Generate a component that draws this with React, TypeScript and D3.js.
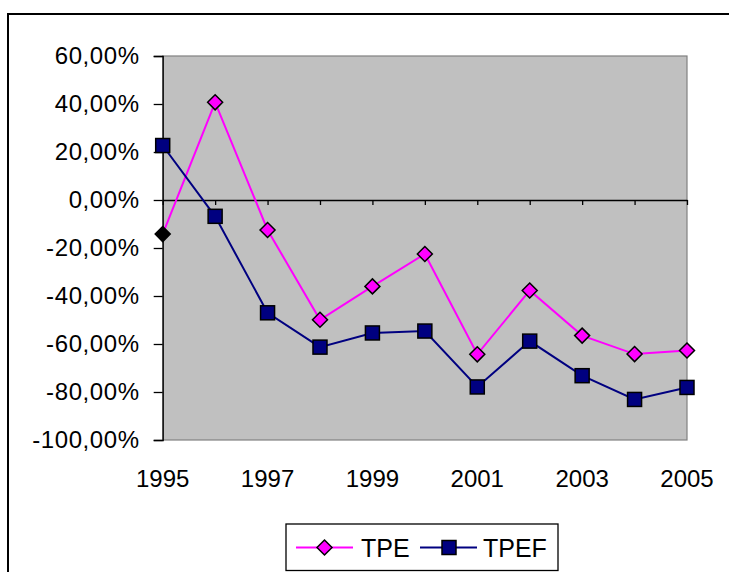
import React, { useRef, useEffect } from 'react';
import * as d3 from 'd3';

const years: number[] = [1995, 1996, 1997, 1998, 1999, 2000, 2001, 2002, 2003, 2004, 2005];
const tpe: number[] = [-14.2, 40.7, -12.5, -49.9, -36.0, -22.5, -64.3, -37.7, -56.5, -64.2, -62.7];
const tpef: number[] = [22.7, -6.8, -47.0, -61.3, -55.4, -54.6, -77.9, -58.8, -73.2, -83.1, -78.1];
const yTicks: number[] = [60, 40, 20, 0, -20, -40, -60, -80, -100];
const xLabels: number[] = [1995, 1997, 1999, 2001, 2003, 2005];

const W = 729;
const H = 572;
const FONT = '"Liberation Sans", Arial, sans-serif';

const App: React.FC = () => {
    const svgRef = useRef<SVGSVGElement | null>(null);

    useEffect(() => {
        const svg = d3.select(svgRef.current);
        svg.selectAll('*').remove();

        const left = 162.7, right = 687, top = 56, bottom = 440;

        const x = d3.scaleLinear().domain([1995, 2005]).range([left, right]);
        const y = d3.scaleLinear().domain([-100, 60]).range([bottom, top]);

        // outer chart border
        svg.append('rect')
            .attr('x', 8).attr('y', 14)
            .attr('width', 800).attr('height', 700)
            .attr('fill', 'white')
            .attr('stroke', 'black')
            .attr('stroke-width', 2);

        // plot area
        svg.append('rect')
            .attr('x', left).attr('y', top)
            .attr('width', right - left).attr('height', bottom - top)
            .attr('fill', '#c0c0c0')
            .attr('stroke', '#808080')
            .attr('stroke-width', 1.2);

        // y axis, labels like "-20,00%" with a plain hyphen
        const yAxis = d3.axisLeft(y)
            .tickValues(yTicks)
            .tickSize(9)
            .tickPadding(14)
            .tickFormat(d => (d as number).toFixed(2).replace('.', ',') + '%');
        const gy = svg.append('g')
            .attr('transform', `translate(${left},0)`)
            .call(yAxis);
        gy.select('.domain').attr('stroke', 'black').attr('stroke-width', 1.3);
        gy.selectAll('.tick line').attr('stroke', 'black').attr('stroke-width', 1.3);
        gy.selectAll('.tick text')
            .attr('font-family', FONT)
            .attr('font-size', 24)
            .attr('letter-spacing', 0.6)
            .attr('fill', 'black');

        // x axis at zero
        const xAxis = d3.axisBottom(x)
            .tickValues(years)
            .tickSize(5)
            .tickSizeOuter(0)
            .tickFormat(() => '');
        const gx = svg.append('g')
            .attr('transform', `translate(0,${y(0)})`)
            .call(xAxis);
        gx.select('.domain').attr('stroke', 'black').attr('stroke-width', 1.3);
        gx.selectAll('.tick line').attr('stroke', 'black').attr('stroke-width', 1.3);

        // x labels at the bottom
        svg.append('g')
            .selectAll('text')
            .data(xLabels)
            .enter().append('text')
            .attr('x', d => x(d))
            .attr('y', 487)
            .attr('text-anchor', 'middle')
            .attr('font-family', FONT)
            .attr('font-size', 24)
            .text(d => String(d));

        const line = d3.line<number>()
            .x((_, i) => x(years[i]))
            .y(d => y(d));

        svg.append('path')
            .datum(tpe)
            .attr('d', line)
            .attr('fill', 'none')
            .attr('stroke', '#ff00ff')
            .attr('stroke-width', 2);

        svg.append('path')
            .datum(tpef)
            .attr('d', line)
            .attr('fill', 'none')
            .attr('stroke', '#000080')
            .attr('stroke-width', 2);

        const diamond = (cx: number, cy: number, r: number) =>
            `M${cx},${cy - r}L${cx + r},${cy}L${cx},${cy + r}L${cx - r},${cy}Z`;

        svg.append('g')
            .selectAll('rect')
            .data(tpef)
            .enter().append('rect')
            .attr('x', (_, i) => x(years[i]) - 7)
            .attr('y', d => y(d) - 7)
            .attr('width', 14)
            .attr('height', 14)
            .attr('fill', '#000080')
            .attr('stroke', 'black')
            .attr('stroke-width', 1.5);

        svg.append('g')
            .selectAll('path')
            .data(tpe)
            .enter().append('path')
            .attr('d', (d, i) => diamond(x(years[i]), y(d), 7.5))
            .attr('fill', (_, i) => i === 0 ? 'black' : '#ff00ff')
            .attr('stroke', 'black')
            .attr('stroke-width', 1.5);

        // legend
        const lg = svg.append('g');
        lg.append('rect')
            .attr('x', 286).attr('y', 524)
            .attr('width', 272).attr('height', 46.5)
            .attr('fill', 'white')
            .attr('stroke', 'black')
            .attr('stroke-width', 1.3);
        const ly = 547.5;
        lg.append('line')
            .attr('x1', 296).attr('x2', 353).attr('y1', ly).attr('y2', ly)
            .attr('stroke', '#ff00ff').attr('stroke-width', 2);
        lg.append('path')
            .attr('d', diamond(324.5, ly, 7.5))
            .attr('fill', '#ff00ff').attr('stroke', 'black').attr('stroke-width', 1.5);
        lg.append('text')
            .attr('x', 361).attr('y', ly + 9.5)
            .attr('font-family', FONT).attr('font-size', 25)
            .text('TPE');
        lg.append('line')
            .attr('x1', 420).attr('x2', 477).attr('y1', ly).attr('y2', ly)
            .attr('stroke', '#000080').attr('stroke-width', 2);
        lg.append('rect')
            .attr('x', 449 - 7).attr('y', ly - 7)
            .attr('width', 14).attr('height', 14)
            .attr('fill', '#000080').attr('stroke', 'black').attr('stroke-width', 1.5);
        lg.append('text')
            .attr('x', 483).attr('y', ly + 9.5)
            .attr('font-family', FONT).attr('font-size', 25)
            .text('TPEF');
    }, []);

    return (
        <svg
            ref={svgRef}
            width={W}
            height={H}
            style={{ position: 'absolute', left: 0, top: 0 }}
        ></svg>
    );
};

export default App;
